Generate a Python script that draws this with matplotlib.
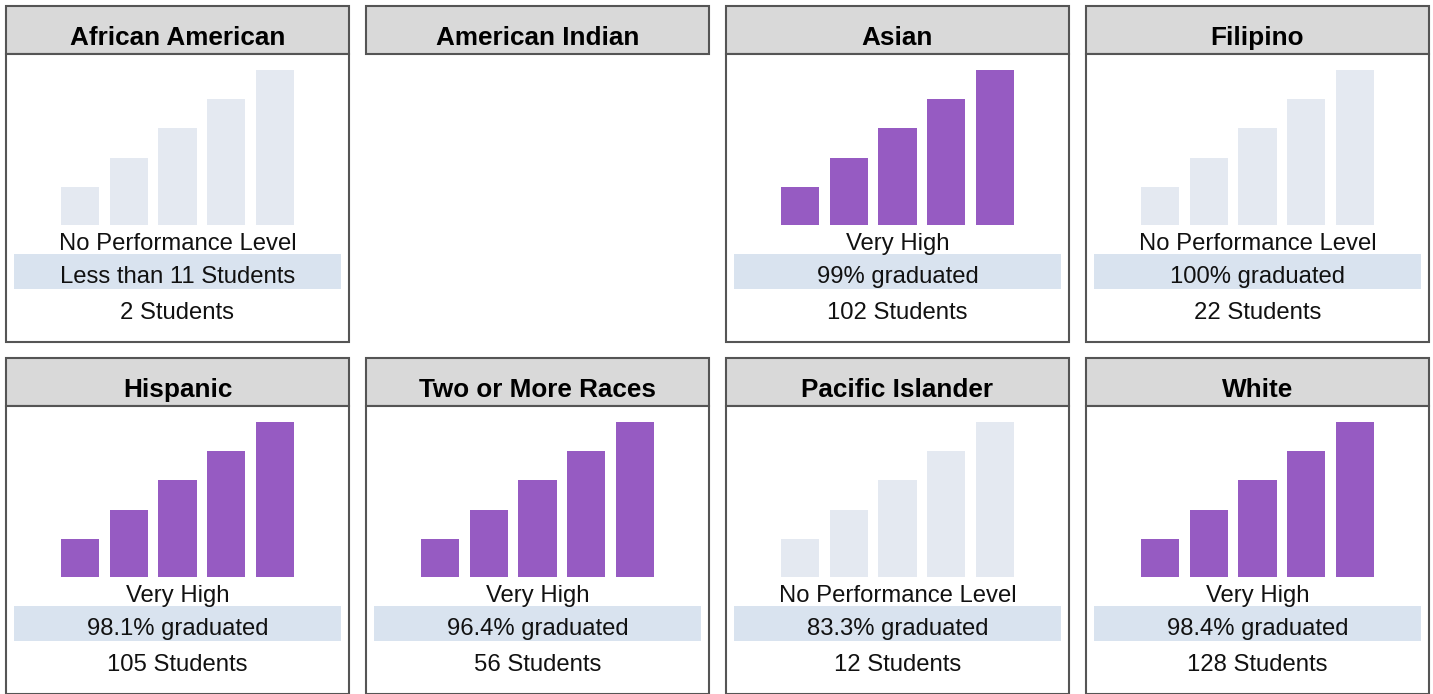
import matplotlib
matplotlib.use("Agg")
import matplotlib.pyplot as plt
from matplotlib.patches import Rectangle

plt.rcParams['font.family'] = ['Liberation Sans', 'DejaVu Sans']

# data
groups = ["African American", "American Indian", "Asian", "Filipino",
          "Hispanic", "Two or More Races", "Pacific Islander", "White"]
levels = ["No Performance Level", None, "Very High", "No Performance Level",
          "Very High", "Very High", "No Performance Level", "Very High"]
grad_text = ["Less than 11 Students", None, "99% graduated", "100% graduated",
             "98.1% graduated", "96.4% graduated", "83.3% graduated", "98.4% graduated"]
students = [2, None, 102, 22, 105, 56, 12, 128]
bar_heights = [1.3, 2.3, 3.3, 4.3, 5.3]  # the 5-step level gauge

W, H = 1433, 694
PURPLE = "#965bc2"
PALE = "#e4e9f1"
BAND = "#d9e3ef"
HEAD = "#d9d9d9"
EDGE = "#555555"

fig = plt.figure(figsize=(W / 100, H / 100), dpi=100)
base = fig.add_axes([0, 0, 1, 1])
base.set_xlim(0, W)
base.set_ylim(H, 0)
base.axis('off')

pw = 343
bw = 0.78
for i, name in enumerate(groups):
    col, row = i % 4, i // 4
    x0 = 6 + col * 360
    y0 = 6 + row * 352
    cx = x0 + pw / 2

    # header
    base.add_patch(Rectangle((x0, y0), pw, 48, facecolor=HEAD, edgecolor=EDGE, lw=1.5))
    base.text(cx, y0 + 38.5, name, ha='center', va='baseline', fontsize=18.8,
              fontweight='bold', color='black')

    if levels[i] is None:
        continue

    # body box
    base.add_patch(Rectangle((x0, y0 + 48), pw, 288, facecolor='white', edgecolor=EDGE, lw=1.5))

    # bars
    bx = x0 + 55
    ax = fig.add_axes([bx / W, 1 - (y0 + 219) / H, 233 / W, 155 / H])
    color = PURPLE if levels[i] == "Very High" else PALE
    ax.bar(range(len(bar_heights)), bar_heights, width=bw, color=color)
    ax.set_xlim(-bw / 2, len(bar_heights) - 1 + bw / 2)
    ax.set_ylim(0, max(bar_heights))
    ax.axis('off')

    # labels
    base.text(cx, y0 + 244, levels[i], ha='center', va='baseline', fontsize=17.2, color='#111111')
    base.add_patch(Rectangle((x0 + 8, y0 + 248), pw - 16, 35, facecolor=BAND, edgecolor='none'))
    base.text(cx, y0 + 277, grad_text[i], ha='center', va='baseline', fontsize=17.2, color='#111111')
    base.text(cx, y0 + 313, f"{students[i]} Students", ha='center', va='baseline',
              fontsize=17.2, color='#111111')

fig.savefig("out.png", dpi=100, facecolor='white')
